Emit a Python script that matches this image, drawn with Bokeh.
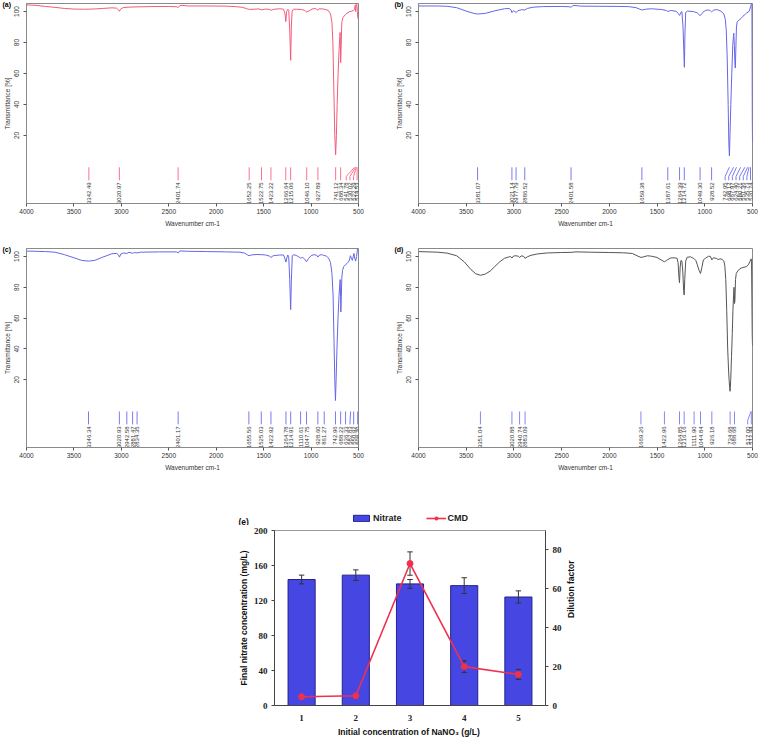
import numpy as np
from bokeh.plotting import figure
from bokeh.models import (Range1d, FixedTicker, LinearAxis, Legend,
                          LegendItem, Spacer)
from bokeh.layouts import column, row
from bokeh.embed import file_html
from bokeh.resources import INLINE
from bokeh.core.properties import value

# ---------------- FTIR spectra (wavenumber, transmittance) ----------------
wn_a = [4000, 3900, 3800, 3700, 3600, 3500, 3400, 3300, 3200, 3100, 3050, 3030, 3020, 3010, 2980,
        2900, 2700, 2500, 2420, 2400, 2385, 2360, 2300, 2100, 1900, 1800, 1720, 1680, 1650, 1600,
        1550, 1522, 1480, 1440, 1423, 1400, 1330, 1290, 1275, 1266, 1258, 1245, 1235, 1225, 1215,
        1208, 1200, 1185, 1150, 1100, 1070, 1046, 1020, 990, 960, 940, 928, 915, 880, 860, 820,
        795, 780, 770, 760, 750, 741, 733, 725, 715, 705, 697, 694, 690, 688, 684, 676, 665, 640,
        600, 570, 550, 540, 535, 530, 526, 522, 518, 512, 507, 502, 500]
tr_a = [104.3, 104.0, 103.3, 102.7, 102.0, 101.6, 101.5, 101.6, 102.0, 102.4, 102.2, 101.0, 100.2,
        101.5, 102.6, 102.9, 103.2, 103.3, 103.1, 102.6, 103.8, 104.0, 103.6, 103.6, 103.5, 103.2,
        102.7, 101.8, 101.4, 101.5, 101.7, 101.1, 101.6, 101.4, 100.8, 101.4, 101.8, 101.5, 98.5,
        93.5, 100.0, 101.5, 100.8, 88.0, 68.5, 90.0, 100.2, 101.5, 101.5, 101.3, 100.8, 99.7, 100.5,
        101.6, 102.0, 101.5, 100.8, 101.8, 101.7, 101.5, 100.8, 98.5, 93.0, 80.0, 50.0, 20.0, 7.5,
        20.0, 40.0, 60.0, 75.0, 84.0, 86.5, 78.0, 67.0, 75.0, 93.0, 96.0, 98.0, 99.8, 100.3, 100.8,
        101.5, 104.0, 100.0, 104.5, 106.0, 105.0, 100.0, 96.0, 95.0, 95.0]

wn_b = [4000, 3900, 3800, 3700, 3600, 3500, 3420, 3380, 3300, 3200, 3100, 3050, 3030, 3021, 3005,
        2990, 2977, 2960, 2920, 2886, 2860, 2800, 2700, 2500, 2420, 2400, 2385, 2360, 2300, 2100,
        1900, 1800, 1720, 1680, 1659, 1620, 1560, 1500, 1450, 1400, 1387, 1360, 1300, 1280, 1264,
        1250, 1240, 1228, 1220, 1214, 1208, 1200, 1180, 1120, 1080, 1049, 1020, 990, 960, 940, 928,
        910, 880, 860, 830, 800, 785, 775, 765, 755, 748, 742, 736, 727, 717, 707, 700, 696, 690,
        684, 680, 675, 668, 660, 640, 620, 600, 580, 560, 540, 530, 520, 514, 510, 506, 504, 502, 500]
tr_b = [103.6, 103.6, 103.6, 103.4, 102.5, 100.3, 98.8, 98.4, 98.8, 100.5, 101.8, 102.0, 101.0, 99.3,
        100.6, 100.0, 99.3, 100.5, 101.2, 101.0, 102.0, 102.8, 103.2, 103.3, 103.1, 102.8, 103.8,
        103.9, 103.5, 103.4, 103.3, 103.2, 102.5, 101.5, 101.0, 101.5, 101.8, 101.5, 101.3, 100.6,
        100.0, 100.7, 100.2, 98.8, 97.5, 99.5, 100.0, 90.0, 75.0, 64.0, 85.0, 99.5, 100.3, 100.0,
        99.2, 97.3, 99.5, 100.8, 101.0, 100.5, 99.8, 100.8, 101.3, 101.0, 100.2, 98.5, 95.0, 88.0,
        70.0, 40.0, 15.0, 6.7, 20.0, 40.0, 60.0, 78.0, 84.0, 86.0, 78.0, 66.0, 63.5, 75.0, 90.0,
        93.5, 94.5, 95.5, 97.0, 98.0, 99.2, 99.8, 101.0, 103.0, 104.5, 105.5, 104.0, 70.0, 30.0, 15.5]

wn_c = [4000, 3900, 3800, 3700, 3600, 3500, 3420, 3346, 3280, 3200, 3100, 3050, 3030, 3020, 3005,
        2980, 2942, 2920, 2881, 2860, 2834, 2800, 2600, 2420, 2400, 2385, 2300, 2100, 1900, 1750,
        1700, 1670, 1655, 1630, 1580, 1525, 1480, 1440, 1423, 1400, 1330, 1290, 1275, 1265, 1256,
        1245, 1235, 1225, 1215, 1208, 1198, 1180, 1150, 1130, 1110, 1090, 1070, 1048, 1025, 1000,
        970, 940, 928, 915, 890, 870, 840, 815, 795, 780, 768, 758, 750, 743, 736, 727, 716, 705,
        697, 693, 689, 686, 682, 676, 668, 655, 640, 620, 600, 585, 575, 565, 555, 548, 540, 530,
        520, 514, 510, 505, 500]
tr_c = [103.5, 103.4, 103.2, 102.8, 101.2, 99.2, 97.5, 97.0, 97.5, 99.5, 101.8, 102.0, 101.0, 99.6,
        101.6, 102.3, 102.0, 102.7, 102.1, 102.6, 102.3, 102.8, 103.0, 103.0, 102.3, 103.6, 103.4,
        103.2, 103.0, 102.8, 102.2, 101.0, 100.5, 101.0, 101.3, 101.2, 101.0, 100.3, 99.4, 100.5,
        101.0, 101.0, 98.5, 96.4, 99.0, 101.0, 99.0, 85.0, 65.5, 84.0, 100.5, 101.2, 100.5, 99.8,
        99.0, 99.4, 98.5, 96.6, 98.8, 100.5, 101.2, 100.8, 99.6, 100.8, 101.2, 100.8, 100.3, 99.0,
        96.0, 89.0, 75.0, 45.0, 20.0, 6.5, 20.0, 40.0, 60.0, 75.0, 82.0, 85.0, 74.0, 64.0, 72.0,
        86.0, 91.0, 93.5, 94.5, 95.5, 97.0, 100.5, 99.0, 97.5, 100.0, 102.0, 99.0, 97.0, 100.0,
        103.0, 105.5, 106.0, 106.0]

wn_d = [4000, 3900, 3800, 3700, 3600, 3520, 3450, 3400, 3351, 3300, 3250, 3200, 3150, 3100, 3060,
        3035, 3020, 3005, 2980, 2955, 2940, 2925, 2900, 2883, 2860, 2820, 2750, 2650, 2500, 2400,
        2350, 2200, 2000, 1850, 1760, 1700, 1669, 1640, 1600, 1560, 1500, 1450, 1423, 1400, 1360,
        1320, 1290, 1280, 1270, 1265, 1258, 1250, 1240, 1230, 1222, 1216, 1210, 1200, 1185, 1150,
        1130, 1112, 1095, 1080, 1060, 1045, 1030, 1015, 990, 960, 940, 926, 910, 880, 860, 840, 820,
        800, 790, 780, 770, 760, 750, 740, 735, 728, 720, 712, 705, 698, 694, 690, 688, 684, 678,
        670, 650, 620, 590, 560, 540, 525, 515, 510, 506, 503, 500]
tr_d = [103.2, 103.0, 102.8, 102.2, 100.5, 96.5, 91.5, 88.8, 87.8, 88.6, 90.5, 93.5, 96.5, 98.8,
        99.6, 100.0, 99.0, 100.3, 100.5, 100.2, 99.3, 100.4, 100.2, 98.8, 99.8, 100.8, 101.7, 102.3,
        102.6, 102.7, 103.0, 102.8, 102.6, 102.4, 102.0, 100.2, 99.4, 99.8, 100.5, 100.2, 99.4,
        97.5, 96.6, 97.5, 99.0, 99.2, 98.8, 96.0, 86.0, 83.0, 93.0, 97.5, 97.0, 90.0, 78.0, 75.0,
        85.0, 97.0, 99.5, 99.8, 99.2, 98.6, 97.5, 95.0, 91.0, 89.0, 93.0, 97.8, 99.0, 100.2, 100.0,
        97.8, 99.2, 98.8, 98.0, 98.5, 98.2, 97.0, 94.0, 85.0, 65.0, 40.0, 25.0, 15.0, 12.5, 20.0,
        35.0, 50.0, 65.0, 75.0, 80.0, 75.0, 69.5, 72.0, 85.0, 89.0, 91.0, 92.5, 93.0, 93.5, 95.0,
        97.0, 98.5, 97.0, 70.0, 50.0, 42.0]

peaks_a = ["3342.49", "3020.97", "2401.74", "1652.25", "1522.75", "1423.22", "1266.64", "1215.06",
           "1046.10", "927.89", "741.12", "688.34", "541.78", "530.02", "522.29", "514.53"]
peaks_b = ["3381.07", "3021.14", "2977.79", "2886.52", "2401.58", "1659.38", "1387.61", "1264.39",
           "1214.72", "1049.30", "928.52", "742.95", "698.17", "667.97", "624.40", "580.21",
           "551.36", "535.73", "520.74"]
peaks_c = ["3346.34", "3020.93", "2942.58", "2881.47", "2834.35", "2401.17", "1655.56", "1525.03",
           "1422.92", "1264.78", "1214.91", "1110.61", "1047.75", "928.60", "861.27", "742.96",
           "688.22", "636.33", "582.83", "550.92", "508.70"]
peaks_d = ["3351.04", "3020.88", "2940.74", "2883.09", "1669.26", "1422.96", "1264.85", "1216.16",
           "1111.90", "1044.84", "926.18", "734.68", "688.68", "517.00", "512.44"]

x_ticks_ir = [4000, 3500, 3000, 2500, 2000, 1500, 1000, 500]
y_ticks_ir = [20, 40, 60, 80, 100]

# ---------------- panel (e) ----------------
conc = [1, 2, 3, 4, 5]
nitrate = [144, 149, 139, 137, 124]
nitrate_err = [5, 6, 5, 9, 7]
cmd = [4.5, 5.0, 73.0, 20.0, 16.0]
cmd_err = [0.5, 0.5, 6.0, 3.0, 2.6]
series_names = ["Nitrate", "CMD"]

FONT = "Liberation Sans"
BAR_FILL = "#4646e2"
BAR_LINE = "#22228a"
CMD_COLOR = "#f0304f"


def set_tag(p, tag, offset, standoff, size):
    p.title.text = tag
    p.title.align = "left"
    p.title.offset = offset
    p.title.text_font = FONT
    p.title.text_font_size = size
    p.title.text_font_style = "bold"
    p.title.text_color = "black"
    try:
        p.title.standoff = standoff
    except Exception:
        p.title.standoff = 0


def spectrum_fig(wn, tr, curve_color, tick_color, peak_labels, tag, width, height,
                 left, right, top, bottom):
    p = figure(width=width, height=height, x_range=Range1d(4000, 500),
               y_range=Range1d(-24, 105.2), output_backend="svg", toolbar_location=None,
               min_border_left=left, min_border_right=right, min_border_top=top,
               min_border_bottom=bottom)
    p.grid.visible = False
    p.outline_line_color = "#8a8a8a"
    p.outline_line_width = 1

    p.line(wn, tr, line_color=curve_color, line_width=1)

    peaks = [float(s) for s in peak_labels]
    gap = 38.0
    order = np.argsort(peaks)
    pos = [0.0] * len(peaks)
    prev = None
    for i in order:
        x = peaks[i]
        if prev is not None and x < prev + gap:
            x = prev + gap
        pos[i] = x
        prev = x
    xs, ys = [], []
    for pk, lx in zip(peaks, pos):
        if abs(lx - pk) < 1:
            xs.append([pk, pk])
            ys.append([-0.6, -9.0])
        else:
            xs.append([pk, lx, lx])
            ys.append([-0.6, -6.5, -9.0])
    p.multi_line(xs, ys, line_color=tick_color, line_width=1)
    p.text(x=pos, y=[-10.3] * len(pos), text=peak_labels, angle=np.pi / 2,
           text_align="right", text_baseline="middle", text_font_size="6px",
           text_color="#333333", text_font=value(FONT))

    p.xaxis.ticker = FixedTicker(ticks=x_ticks_ir)
    p.yaxis.ticker = FixedTicker(ticks=y_ticks_ir)
    p.xaxis.axis_label = "Wavenumber cm-1"
    p.yaxis.axis_label = "Transmittance [%]"
    for ax in (p.xaxis, p.yaxis):
        ax.axis_line_color = "#8a8a8a"
        ax.major_tick_line_color = "#555555"
        ax.minor_tick_line_color = None
        ax.major_tick_in = 0
        ax.major_tick_out = 3
        ax.major_label_text_font = FONT
        ax.major_label_text_font_size = "6.5px"
        ax.major_label_text_color = "#333333"
        ax.axis_label_text_font = FONT
        ax.axis_label_text_font_size = "6.5px"
        ax.axis_label_text_font_style = "normal"
        ax.axis_label_text_color = "#333333"
    p.xaxis.major_label_standoff = 2
    p.xaxis.axis_label_standoff = 3
    p.yaxis.major_label_orientation = "vertical"
    p.yaxis.major_label_standoff = 4
    p.yaxis.axis_label_standoff = 1

    set_tag(p, tag, -24, -9, "7px")
    return p


pa = spectrum_fig(wn_a, tr_a, "#f35b7b", "#ff7090", peaks_a, "(a)", 378, 245, 26, 20, 3, 42)
pb = spectrum_fig(wn_b, tr_b, "#6767e6", "#7b7bf0", peaks_b, "(b)", 380, 245, 40, 6, 3, 42)
pc = spectrum_fig(wn_c, tr_c, "#6767e6", "#7b7bf0", peaks_c, "(c)", 378, 250, 26, 20, 3, 48)
pd = spectrum_fig(wn_d, tr_d, "#555555", "#8888f2", peaks_d, "(d)", 380, 250, 40, 6, 3, 46)

# ---------------- panel (e) figure ----------------
pe = figure(width=366, height=214, x_range=Range1d(0.5, 5.5), y_range=Range1d(0, 200),
            output_backend="svg", toolbar_location=None, min_border_left=54,
            min_border_right=41, min_border_top=5, min_border_bottom=30)
pe.grid.visible = False
pe.outline_line_color = "#9a9a9a"
pe.extra_y_ranges = {"cmd": Range1d(0, 90)}

pe.vbar(x=conc, top=nitrate, width=0.5, fill_color=BAR_FILL, line_color=BAR_LINE,
        line_width=1)
n_lo = [v - e for v, e in zip(nitrate, nitrate_err)]
n_hi = [v + e for v, e in zip(nitrate, nitrate_err)]
pe.segment(x0=conc, y0=n_lo, x1=conc, y1=n_hi, line_color="#333333", line_width=1)
pe.segment(x0=[c - 0.05 for c in conc], y0=n_lo, x1=[c + 0.05 for c in conc], y1=n_lo,
           line_color="#333333", line_width=1)
pe.segment(x0=[c - 0.05 for c in conc], y0=n_hi, x1=[c + 0.05 for c in conc], y1=n_hi,
           line_color="#333333", line_width=1)

c_lo = [v - e for v, e in zip(cmd, cmd_err)]
c_hi = [v + e for v, e in zip(cmd, cmd_err)]
pe.segment(x0=conc, y0=c_lo, x1=conc, y1=c_hi, line_color="#333333", line_width=1,
           y_range_name="cmd")
pe.segment(x0=[c - 0.05 for c in conc], y0=c_lo, x1=[c + 0.05 for c in conc], y1=c_lo,
           line_color="#333333", line_width=1, y_range_name="cmd")
pe.segment(x0=[c - 0.05 for c in conc], y0=c_hi, x1=[c + 0.05 for c in conc], y1=c_hi,
           line_color="#333333", line_width=1, y_range_name="cmd")
pe.line(conc, cmd, line_color=CMD_COLOR, line_width=1.6, y_range_name="cmd")
pe.scatter(conc, cmd, size=6, fill_color=CMD_COLOR, line_color=CMD_COLOR,
           y_range_name="cmd")

raxis = LinearAxis(y_range_name="cmd", axis_label="Dilution factor",
                   ticker=FixedTicker(ticks=[0, 20, 40, 60, 80]))
if "axis_label_orientation" in raxis.properties():
    raxis.axis_label_orientation = np.pi / 2
pe.add_layout(raxis, "right")
pe.xaxis.ticker = FixedTicker(ticks=conc)
pe.yaxis[0].ticker = FixedTicker(ticks=[0, 40, 80, 120, 160, 200])
pe.xaxis.axis_label = "Initial concentration  of NaNO\u2083 (g/L)"
pe.yaxis[0].axis_label = "Final nitrate concentration (mg/L)"
for ax in list(pe.xaxis) + list(pe.yaxis):
    ax.axis_line_color = "#444444"
    ax.major_tick_line_color = "#444444"
    ax.minor_tick_line_color = None
    ax.major_tick_in = 0
    ax.major_tick_out = 3
    ax.major_label_text_font = "Liberation Serif"
    ax.major_label_text_font_style = "bold"
    ax.major_label_text_font_size = "9px"
    ax.major_label_text_color = "#222222"
    ax.major_label_standoff = 4
    ax.axis_label_text_font = FONT
    ax.axis_label_text_font_style = "bold"
    ax.axis_label_text_font_size = "8.5px"
    ax.axis_label_text_color = "#111111"
    ax.axis_label_standoff = 6
pe.yaxis[0].axis_label_standoff = 2
pe.xaxis.major_tick_out = 0
pe.xaxis.major_label_standoff = 9
pe.xaxis.axis_label_standoff = 3

# legend strip above panel (e): its own small plot so the legend is not clipped
pl = figure(width=366, height=30, x_range=Range1d(0, 366), y_range=Range1d(0, 30),
            output_backend="svg", toolbar_location=None, min_border=0,
            x_axis_location=None, y_axis_location=None)
pl.grid.visible = False
pl.outline_line_color = None
aligned = True
if "frame_align" in pl.properties():
    pl.frame_align = False
    pe.frame_align = False
    aligned = False
shift = 54 if aligned else 0
# off-screen proxies that only supply the legend's glyph styling
lb = pl.vbar(x=[-5000], top=[-5000], bottom=[-5001], width=0.5, fill_color=BAR_FILL,
             line_color=BAR_LINE)
ll = pl.line(x=[-5000, -4999], y=[-5000, -5000], line_color=CMD_COLOR, line_width=1.6)
ls = pl.scatter(x=[-5000], y=[-5000], size=6, fill_color=CMD_COLOR, line_color=CMD_COLOR)
legend = Legend(items=[LegendItem(label=series_names[0], renderers=[lb]),
                       LegendItem(label=series_names[1], renderers=[ll, ls])],
                orientation="horizontal", location=(131 - shift, 2), padding=0, margin=0,
                spacing=24, glyph_width=20, glyph_height=8, label_height=10,
                label_standoff=2, border_line_color=None, background_fill_alpha=0,
                label_text_font=FONT, label_text_font_style="bold",
                label_text_font_size="9px", label_text_color="#222222")
pl.add_layout(legend)
pl.text(x=[18], y=[4], text=["(e)"], text_font=value(FONT), text_font_size="8.5px",
        text_font_style="bold", text_color="#111111", text_baseline="middle",
        text_align="left")

layout = column(row(pa, pb), row(pc, pd),
                row(Spacer(width=220, height=244), column(pl, pe)))

open("out.html", "w").write(file_html(layout, INLINE))
